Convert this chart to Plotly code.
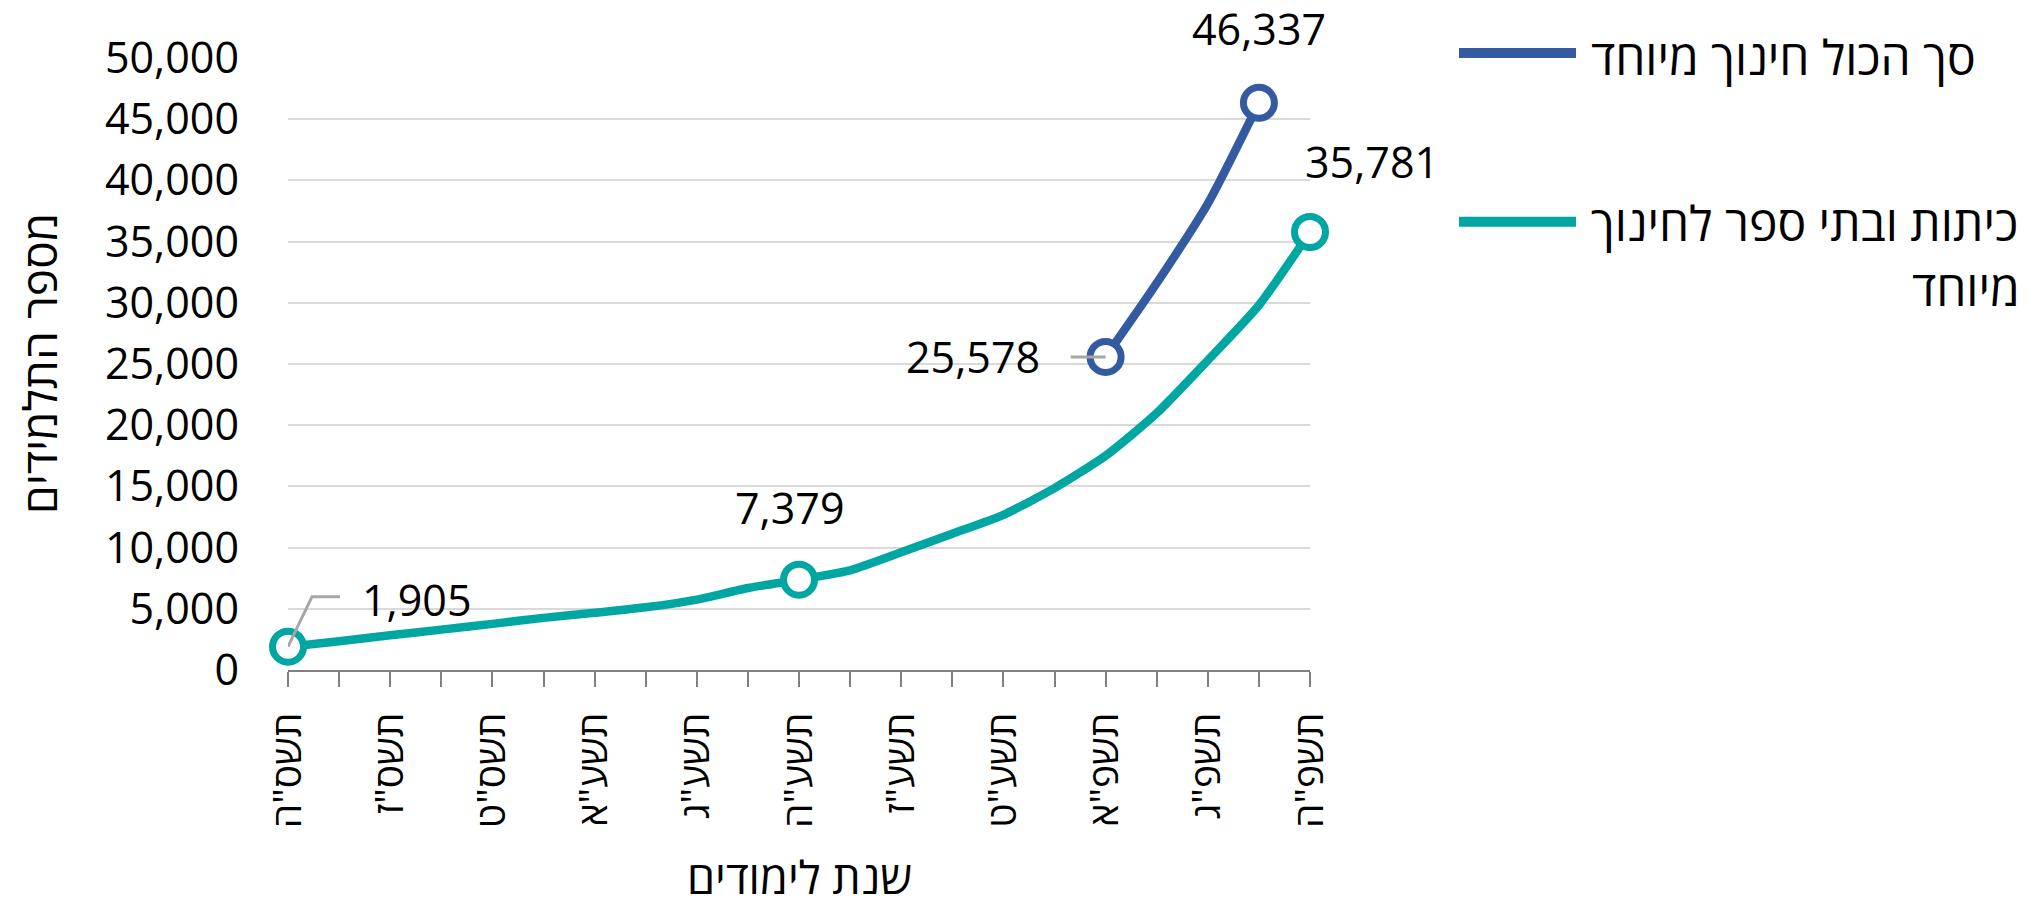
import plotly.graph_objects as go

# ---------------- data ----------------
years = ['תשס"ה', 'תשס"ו', 'תשס"ז', 'תשס"ח', 'תשס"ט', 'תש"ע', 'תשע"א', 'תשע"ב',
         'תשע"ג', 'תשע"ד', 'תשע"ה', 'תשע"ו', 'תשע"ז', 'תשע"ח', 'תשע"ט', 'תש"פ',
         'תשפ"א', 'תשפ"ב', 'תשפ"ג', 'תשפ"ד', 'תשפ"ה']
tick_labels = [y if i % 2 == 0 else "" for i, y in enumerate(years)]

total_years = ['תשפ"א', 'תשפ"ב', 'תשפ"ג', 'תשפ"ד']
total_values = [25578, 31600, 38100, 46337]

classes_values = [1905, 2350, 2840, 3300, 3770, 4260, 4670, 5120, 5750, 6700,
                  7379, 8140, 9610, 11130, 12680, 14860, 17500, 20980, 25300,
                  29800, 35781]

name_total = "סך הכול חינוך מיוחד"
name_classes_1 = "כיתות ובתי ספר לחינוך"
name_classes_2 = "מיוחד"
y_title = "מספר התלמידים"
x_title = "שנת לימודים"

BLUE = "#345BA1"
TEAL = "#00A6A2"
FONT = "Open Sans, DejaVu Sans, sans-serif"
FS_NUM = 43
FS_TICK = 39
FS_LEG = 48

# page has an 8px body margin -> compensate
OFF = 8
W, H = 2029 - 2 * OFF, 903 - 2 * OFF
L, R, T, B = 288 - OFF, 1310 - OFF, 58 - OFF, 670.5 - OFF
PW, PH = R - L, B - T


def px(x):
    return (x - OFF - L) / PW


def py(y):
    return (B - (y - OFF)) / PH


fig = go.Figure()

fig.add_trace(go.Scatter(x=years, y=classes_values, mode="lines",
                         line=dict(color=TEAL, width=8.5, shape="spline", smoothing=0.6),
                         cliponaxis=False, showlegend=False, hoverinfo="x+y"))
fig.add_trace(go.Scatter(x=total_years, y=total_values, mode="lines",
                         line=dict(color=BLUE, width=8.5, shape="spline", smoothing=0.6),
                         cliponaxis=False, showlegend=False, hoverinfo="x+y"))

# labelled points (open circles)
teal_idx = [0, 10, 20]
blue_idx = [0, 3]
fig.add_trace(go.Scatter(x=[years[i] for i in teal_idx], y=[classes_values[i] for i in teal_idx],
                         mode="markers", cliponaxis=False, showlegend=False,
                         marker=dict(size=31, color="white", line=dict(color=TEAL, width=7))))
fig.add_trace(go.Scatter(x=[total_years[i] for i in blue_idx], y=[total_values[i] for i in blue_idx],
                         mode="markers", cliponaxis=False, showlegend=False,
                         marker=dict(size=31, color="white", line=dict(color=BLUE, width=7))))

fmt = lambda v: f"{v:,}"
annos = []
shapes = []
GRAY = "#A6A6A6"
numfont = dict(size=FS_NUM)

# 1,905
annos.append(dict(x=years[0], y=classes_values[0], text=fmt(classes_values[0]), showarrow=False,
                  xanchor="left", yanchor="middle", xshift=72, yshift=47, font=numfont))
shapes.append(dict(type="path", xref="x", yref="y", xsizemode="pixel", ysizemode="pixel",
                   xanchor=years[0], yanchor=classes_values[0],
                   path="M 0 0 L 24 50 L 52 50", line=dict(color=GRAY, width=3)))
# 7,379
annos.append(dict(x=years[10], y=classes_values[10], text=fmt(classes_values[10]), showarrow=False,
                  xanchor="center", yanchor="middle", xshift=-10, yshift=72, font=numfont))
# 35,781
annos.append(dict(x=years[20], y=classes_values[20], text=fmt(classes_values[20]), showarrow=False,
                  xanchor="center", yanchor="middle", xshift=62, yshift=71, font=numfont))
shapes.append(dict(type="path", xref="x", yref="y", xsizemode="pixel", ysizemode="pixel",
                   xanchor=years[20], yanchor=classes_values[20],
                   path="M 0 0 L 67 33", line=dict(color=GRAY, width=3)))
# 25,578
annos.append(dict(x=total_years[0], y=total_values[0], text=fmt(total_values[0]), showarrow=False,
                  xanchor="right", yanchor="middle", xshift=-64, yshift=0, font=numfont))
shapes.append(dict(type="path", xref="x", yref="y", xsizemode="pixel", ysizemode="pixel",
                   xanchor=total_years[0], yanchor=total_values[0],
                   path="M -35 0 L 0 0", line=dict(color=GRAY, width=3)))
# 46,337
annos.append(dict(x=total_years[3], y=total_values[3], text=fmt(total_values[3]), showarrow=False,
                  xanchor="center", yanchor="middle", xshift=0, yshift=74, font=numfont))

# legend (manual)
shapes.append(dict(type="line", xref="paper", yref="paper", x0=px(1459), x1=px(1576),
                   y0=py(53), y1=py(53), line=dict(color=BLUE, width=10)))
shapes.append(dict(type="line", xref="paper", yref="paper", x0=px(1459), x1=px(1576),
                   y0=py(222), y1=py(222), line=dict(color=TEAL, width=10)))
legfont = dict(size=FS_LEG)
annos.append(dict(xref="paper", yref="paper", x=px(1589), y=py(56), text=name_total,
                  showarrow=False, xanchor="left", yanchor="middle", font=legfont))
annos.append(dict(xref="paper", yref="paper", x=px(1589), y=py(223), text=name_classes_1,
                  showarrow=False, xanchor="left", yanchor="middle", font=legfont))
annos.append(dict(xref="paper", yref="paper", x=px(2022), y=py(288), text=name_classes_2,
                  showarrow=False, xanchor="right", yanchor="middle", font=legfont))

# axis titles
annos.append(dict(xref="paper", yref="paper", x=px(39), y=0.5, text=y_title, textangle=-90,
                  showarrow=False, xanchor="center", yanchor="middle", font=dict(size=46)))
annos.append(dict(xref="paper", yref="paper", x=0.5, y=py(877), text=x_title,
                  showarrow=False, xanchor="center", yanchor="middle", font=dict(size=45)))

fig.update_layout(
    width=W, height=H,
    margin=dict(l=L, r=W - R, t=T, b=H - B, pad=0),
    paper_bgcolor="white", plot_bgcolor="white",
    font=dict(family=FONT, size=FS_TICK, color="#000000"),
    annotations=annos, shapes=shapes, showlegend=False,
    xaxis=dict(type="category", categoryorder="array", categoryarray=years,
               range=[0, len(years) - 1], tickmode="array", tickvals=years, ticktext=tick_labels,
               tickangle=-90, ticks="outside", ticklen=15, tickwidth=2, tickcolor="#808080",
               showline=True, linecolor="#808080", linewidth=2, showgrid=False, zeroline=False,
               ticklabelstandoff=10, tickfont=dict(size=FS_TICK)),
    yaxis=dict(range=[0, 50000], dtick=5000, tickformat=",", showgrid=True,
               gridcolor="#D9D9D9", gridwidth=2, zeroline=False, showline=False, ticks="",
               ticklabelstandoff=48, tickfont=dict(size=FS_NUM)),
)

fig.write_html("out.html")
